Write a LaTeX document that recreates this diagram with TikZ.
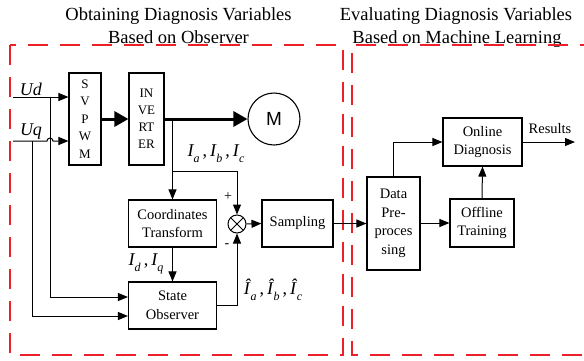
\documentclass[tikz,border=0pt]{standalone}
\usepackage{fontspec}
\setmainfont{Liberation Serif}
\newfontfamily\motorfont{Liberation Sans}
\usetikzlibrary{arrows.meta,calc}
\definecolor{framered}{RGB}{236,32,40}
% italic current symbol with a subscript
\newcommand{\Isub}[2]{\textit{#1}\kern-0.5pt\raisebox{-0.32em}{\fontsize{12}{12}\selectfont\textit{#2}}}
\begin{document}
\begin{tikzpicture}[x=1pt,y=-1pt,line width=1pt,
  blk/.style={draw,line width=1.1pt,inner sep=1pt,align=center,font=\fontsize{14.5}{18.5}\selectfont},
  arr/.style={-{Triangle[length=10pt,width=8pt]}},
  thickarr/.style={line width=3pt,-{Triangle[length=14pt,width=15pt]}},
  frame/.style={draw=framered,line width=1.4pt,dash pattern=on 20pt off 12pt},
  title/.style={anchor=base,font=\fontsize{18.5}{23}\selectfont},
  lbl/.style={font=\fontsize{18}{18}\selectfont,inner sep=0pt}]
\useasboundingbox (0,0) rectangle (584,360);
\clip (0,0) rectangle (584,360);

% section titles
\node[title] (t1) at (178.5,20) {Obtaining Diagnosis Variables};
\node[title] (t2) at (178.5,43) {Based on Observer};
\node[title] (t3) at (456,20) {Evaluating Diagnosis Variables};
\node[title] (t4) at (457,43) {Based on Machine Learning};

% dashed frames
\draw[frame] (10,45) rectangle (343,355);
\draw[frame] (600,45) -- (352,45) -- (352,355) -- (600,355);

% blocks
\node[blk,minimum width=32pt,minimum height=92pt,font=\fontsize{13}{17.5}\selectfont] (svpwm) at (85,119) {S\\V\\P\\W\\M};
\node[blk,minimum width=35pt,minimum height=92pt,font=\fontsize{13}{17}\selectfont] (inv) at (146.5,119) {IN\\VE\\RT\\ER};
\node[draw,circle,line width=1.1pt,minimum size=52pt,inner sep=0pt,font=\motorfont\fontsize{19}{19}\selectfont] (mot) at (274,119) {M};
\node[blk,minimum width=88pt,minimum height=47pt] (ct) at (172.5,223.5) {Coordinates\\Transform};
\node[blk,minimum width=88pt,minimum height=47pt] (so) at (172.5,305.5) {State\\Observer};
\node[draw,circle,minimum size=18pt,inner sep=0pt,line width=1pt,
  path picture={\draw (path picture bounding box.north west) -- (path picture bounding box.south east)
                      (path picture bounding box.north east) -- (path picture bounding box.south west);}] (sum) at (237,224) {};
\node[blk,minimum width=71pt,minimum height=47pt] (samp) at (297.5,223.5) {Sampling};
\node[blk,minimum width=53pt,minimum height=93pt] (data) at (393.5,223.5) {Data\\Pre-\\proces\\sing};
\node[blk,minimum width=79pt,minimum height=48pt] (onl) at (482.5,142) {Online\\Diagnosis};
\node[blk,minimum width=64pt,minimum height=48pt] (offl) at (482,223) {Offline\\Training};

% inputs
\coordinate (ud) at (13,97);
\coordinate (uq) at (13,141);
\coordinate (udj) at (50,97);
\coordinate (uqj) at (32,141);
\node[lbl,anchor=base] (udl) at (31,95) {\textit{Ud}};
\node[lbl,anchor=base] (uql) at (31,135) {\textit{Uq}};
\draw[arr] (ud) -- (ud -| svpwm.west);
\draw[arr] (uq) -- (47,141) arc[start angle=180,end angle=0,radius=3pt] -- (uq -| svpwm.west);
\draw[arr] (udj) |- ([yshift=8.5pt]so.west);
\draw[arr] (uqj) |- ([yshift=-10.5pt]so.west);

% power path
\draw[thickarr] (svpwm.east) -- (inv.west);
\draw[thickarr] (inv.east) -- (mot.west);

% measured currents
\coordinate (br) at (172.5,119);
\coordinate (br2) at (172.5,171);
\draw[arr] (br) -- (ct.north);
\draw[arr] (br2) -| (sum.north);
\draw[arr] (ct.south) -- (so.north);
\draw[arr] (so.east) -| (sum.south);
\draw[arr] (sum.east) -- (samp.west);
\draw[arr] (samp.east) -- (data.west);

% learning part
\draw[arr] (data.north) |- (onl.west);
\draw[arr] (data.east |- offl.west) -- (offl.west);
\draw[arr] (offl.north) -- (onl.south);
\coordinate (res) at (575,142);
\draw[arr] (onl.east) -- (res);
\node[font=\fontsize{14.5}{14.5}\selectfont] (resl) at (550,129) {Results};

% signal labels
\node[lbl] (lia) at (216,154) {\Isub{I}{a}\,,\,\Isub{I}{b}\,,\,\Isub{I}{c}};
\node[lbl] (lid) at (146,264) {\Isub{I}{d}\,,\,\Isub{I}{q}};
\node[lbl] (lih) at (273,290) {\Isub{\^{I}}{a}\,,\,\Isub{\^{I}}{b}\,,\,\Isub{\^{I}}{c}};
\node[font=\fontsize{14}{14}\selectfont,inner sep=0pt] (plus) at (228,197) {+};
\node[font=\fontsize{14}{14}\selectfont,inner sep=0pt] (minus) at (227,246) {-};
\end{tikzpicture}
\end{document}
